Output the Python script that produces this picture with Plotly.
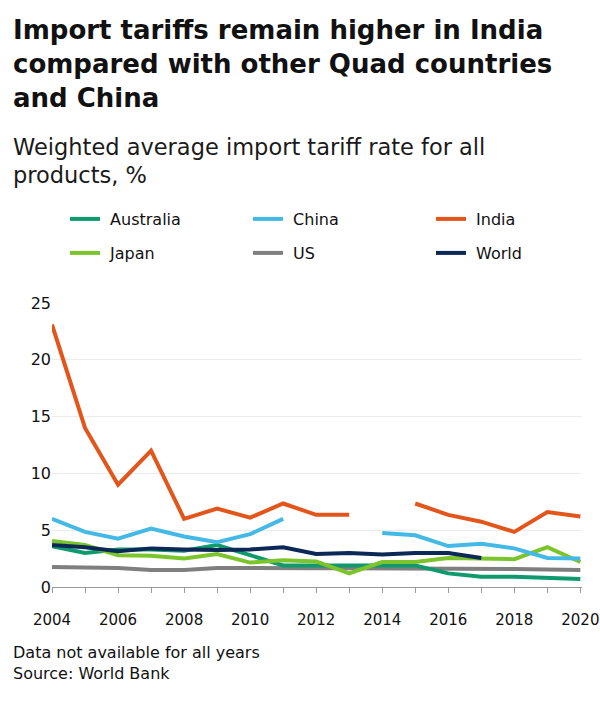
import plotly.graph_objects as go

years = list(range(2004, 2021))
australia = [3.6, 3.0, 3.3, 3.3, 3.2, 3.7, 2.8, 1.9, 1.9, 1.9, 1.9, 1.9, 1.2, 0.9, 0.9, 0.8, 0.7]
china = [6.0, 4.85, 4.25, 5.15, 4.45, 3.95, 4.65, 6.0, None, None, 4.75, 4.55, 3.6, 3.8, 3.4, 2.55, 2.5]
india = [23.1, 14.0, 9.0, 12.0, 6.0, 6.9, 6.1, 7.35, 6.35, 6.35, None, 7.35, 6.35, 5.75, 4.85, 6.6, 6.2]
japan = [4.05, 3.7, 2.8, 2.75, 2.5, 2.9, 2.15, 2.35, 2.25, 1.2, 2.2, 2.2, 2.55, 2.5, 2.45, 3.5, 2.2]
us = [1.75, 1.72, 1.68, 1.5, 1.5, 1.68, 1.65, 1.65, 1.65, 1.65, 1.65, 1.65, 1.65, 1.62, 1.58, 1.55, 1.5]
world = [3.7, 3.5, 3.15, 3.4, 3.3, 3.25, 3.3, 3.5, 2.9, 3.0, 2.85, 3.0, 3.0, 2.55, None, None, None]

# name: (values, colour, legend id, legend column pixel, legend row pixel)
series = {
    "Australia": (australia, "#0e9a6c", "legend", 65, 219),
    "China": (china, "#45b9e6", "legend2", 248, 219),
    "India": (india, "#e2561c", "legend3", 431, 219),
    "Japan": (japan, "#7cc42b", "legend4", 65, 253),
    "US": (us, "#7f7f7f", "legend5", 248, 253),
    "World": (world, "#0b2857", "legend6", 431, 253),
}

x_ticks = years
x_labels = [str(y) if y % 2 == 0 else "" for y in years]
y_ticks = [0, 5, 10, 15, 20, 25]

title_lines = ["Import tariffs remain higher in India",
               "compared with other Quad countries",
               "and China"]
subtitle_lines = ["Weighted average import tariff rate for all", "products, %"]
note_lines = ["Data not available for all years", "Source: World Bank"]

FONT = "DejaVu Sans"
TXT = "#111111"

L, R, T, B = 52, 18, 303, 135
ph = 722 - T - B
pw = 600 - L - R

def py(pix):
    return (722 - B - pix) / ph

def px(pix):
    return (pix - L) / pw

fig = go.Figure()
draw_order = ["US", "Australia", "Japan", "China", "World", "India"]
for name in draw_order:
    vals, col, lg, _, _ = series[name]
    fig.add_trace(go.Scatter(
        x=years, y=vals, name="\u00a0" + name, mode="lines",
        line=dict(color=col, width=4), connectgaps=False,
        legend=lg,
    ))

legends = {}
for name, (vals, col, lg, lx, ly) in series.items():
    legends[lg] = dict(
        orientation="v", x=px(lx), y=py(ly), xanchor="left", yanchor="middle",
        font=dict(family=FONT, size=16, color=TXT), bgcolor="rgba(0,0,0,0)",
    )

annotations = []
for i, t in enumerate(title_lines):
    annotations.append(dict(
        text=t, xref="paper", yref="paper", x=px(11), y=py(30 + 34 * i),
        xanchor="left", yanchor="middle", showarrow=False,
        font=dict(family=FONT, size=26, color=TXT, weight=700)))
for i, t in enumerate(subtitle_lines):
    annotations.append(dict(
        text=t, xref="paper", yref="paper", x=px(11), y=py(147 + 28 * i),
        xanchor="left", yanchor="middle", showarrow=False,
        font=dict(family=FONT, size=22.5, color="#1a1a1a")))
for i, t in enumerate(note_lines):
    annotations.append(dict(
        text=t, xref="paper", yref="paper", x=px(11), y=py(652 + 21 * i),
        xanchor="left", yanchor="middle", showarrow=False,
        font=dict(family=FONT, size=16, color=TXT)))

fig.update_layout(
    width=600, height=722,
    margin=dict(l=L, r=R, t=T, b=B, autoexpand=False),
    paper_bgcolor="white", plot_bgcolor="white",
    font=dict(family=FONT, color=TXT, size=16),
    showlegend=True,
    xaxis=dict(
        range=[2004, 2020.05], tickvals=x_ticks, ticktext=x_labels,
        showgrid=False, zeroline=False, automargin=False,
        showline=True, linecolor="#9a9a9a", linewidth=1,
        ticks="outside", ticklen=5, tickcolor="#9a9a9a",
        ticklabelstandoff=14,
        tickfont=dict(family=FONT, size=15, color=TXT), fixedrange=True,
    ),
    yaxis=dict(
        range=[0, 25], tickvals=y_ticks, automargin=False,
        showgrid=True, gridcolor="#ececec", gridwidth=1,
        zeroline=False, showline=False, ticks="",
        tickfont=dict(family=FONT, size=16, color=TXT), fixedrange=True,
    ),
    annotations=annotations,
    **legends,
)

fig.write_html("out.html")
